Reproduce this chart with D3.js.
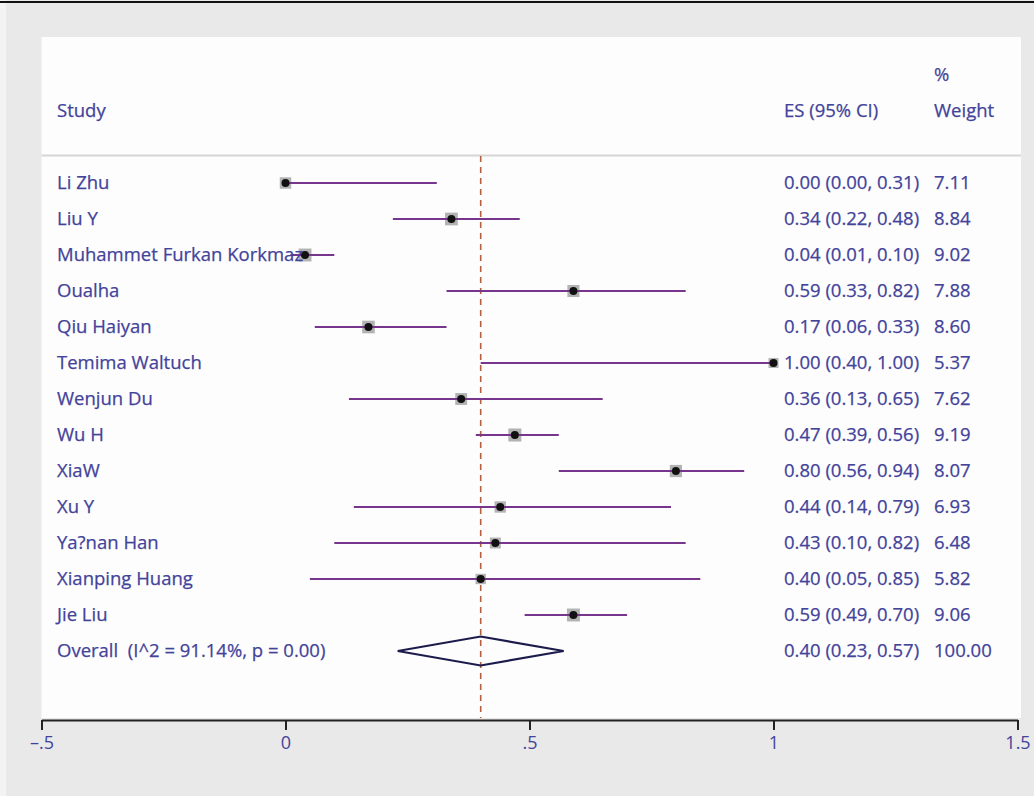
<!DOCTYPE html>
<html><head><meta charset="utf-8">
<script src="https://cdn.jsdelivr.net/npm/d3@7"></script>
<style>html,body{margin:0;padding:0;background:#fff;}svg{display:block;} text{white-space:pre;}</style>
</head><body>
<svg id="chart" width="1034" height="796"></svg>
<script>
const studies = ["Li Zhu","Liu Y","Muhammet Furkan Korkmaz","Oualha","Qiu Haiyan","Temima Waltuch","Wenjun Du","Wu H","XiaW","Xu Y","Ya?nan Han","Xianping Huang","Jie Liu"];
const es     = [0.00,0.34,0.04,0.59,0.17,1.00,0.36,0.47,0.80,0.44,0.43,0.40,0.59];
const lower  = [0.00,0.22,0.01,0.33,0.06,0.40,0.13,0.39,0.56,0.14,0.10,0.05,0.49];
const upper  = [0.31,0.48,0.10,0.82,0.33,1.00,0.65,0.56,0.94,0.79,0.82,0.85,0.70];
const weights= [7.11,8.84,9.02,7.88,8.60,5.37,7.62,9.19,8.07,6.93,6.48,5.82,9.06];
const overall = {label:"Overall  (I^2 = 91.14%, p = 0.00)", es:0.40, lower:0.23, upper:0.57, weight:100.00};
const xTicks = [-0.5,0,0.5,1,1.5];
const xTickLabels = ["\u2013.5","0",".5","1","1.5"];

const svg = d3.select("#chart");
const textColor = "#43439a";
const font = "'Open Sans', sans-serif";
const fs = 18.5;

// background
svg.append("rect").attr("x",0).attr("y",0).attr("width",1034).attr("height",796).attr("fill","#e9e9e9");
svg.append("rect").attr("x",0).attr("y",0).attr("width",6).attr("height",796).attr("fill","#f3f3f3");
svg.append("line").attr("x1",0).attr("x2",1034).attr("y1",2).attr("y2",2).attr("stroke","#111").attr("stroke-width",2);
svg.append("rect").attr("x",41.5).attr("y",37).attr("width",979.5).attr("height",681).attr("fill","#fdfdfd");

const x = d3.scaleLinear().domain([-0.5,1.5]).range([41.5,1017.5]);
const y = d3.scaleLinear().domain([0,13]).range([183,651]);
const fmt = d3.format(".2f");

// header separator
svg.append("line").attr("x1",41.5).attr("x2",1021).attr("y1",155.5).attr("y2",155.5).attr("stroke","#d6d6d6").attr("stroke-width",2);

function label(g, xx, yy, t){
  return g.append("text").attr("x",xx).attr("y",yy).attr("dy","0.35em").attr("fill",textColor)
    .attr("font-family",font).attr("font-size",fs).attr("stroke",textColor).attr("stroke-width",0.25).text(t);
}

// headers
const hdr = svg.append("g");
label(hdr,57,111,"Study");
label(hdr,784,111,"ES (95% CI)");
label(hdr,934,75,"%");
label(hdr,934,111,"Weight");

// dashed overall line
svg.append("line").attr("x1",x(overall.es)).attr("x2",x(overall.es)).attr("y1",156).attr("y2",718)
  .attr("stroke","#b5603f").attr("stroke-width",1.6).attr("stroke-dasharray","6,5");

// rows
const rows = svg.append("g");
studies.forEach((s,i)=>{
  const yy = y(i);
  const side = 4.3*Math.sqrt(weights[i]);
  rows.append("rect").attr("x",x(es[i])-side/2).attr("y",yy-side/2).attr("width",side).attr("height",side).attr("fill","#b3b3b3");
  rows.append("line").attr("x1",x(lower[i])).attr("x2",x(upper[i])).attr("y1",yy).attr("y2",yy)
    .attr("stroke","#78358c").attr("stroke-width",2.2);
  rows.append("circle").attr("cx",x(es[i])).attr("cy",yy).attr("r",4).attr("fill","#111");
  label(rows,57,yy,s);
  label(rows,784,yy,`${fmt(es[i])} (${fmt(lower[i])}, ${fmt(upper[i])})`);
  label(rows,934,yy,fmt(weights[i]));
});

// overall
const yo = y(13);
svg.append("path").attr("d",`M${x(overall.lower)},${yo} L${x(overall.es)},${yo-14.5} L${x(overall.upper)},${yo} L${x(overall.es)},${yo+14.5} Z`)
  .attr("fill","none").attr("stroke","#1c1c4c").attr("stroke-width",2.2);
const og = svg.append("g");
label(og,57,yo,overall.label);
label(og,784,yo,`${fmt(overall.es)} (${fmt(overall.lower)}, ${fmt(overall.upper)})`);
label(og,934,yo,fmt(overall.weight));

// axis
const axis = d3.axisBottom(x).tickValues(xTicks).tickFormat((d,i)=>xTickLabels[i]).tickSize(10).tickSizeOuter(0).tickPadding(6);
const ag = svg.append("g").attr("transform","translate(0,720)").call(axis);
ag.select(".domain").attr("stroke","#222").attr("stroke-width",2);
ag.selectAll(".tick line").attr("stroke","#222").attr("stroke-width",2);
ag.selectAll(".tick text").attr("fill",textColor).attr("font-family",font).attr("font-size",18);
</script>
</body></html>
